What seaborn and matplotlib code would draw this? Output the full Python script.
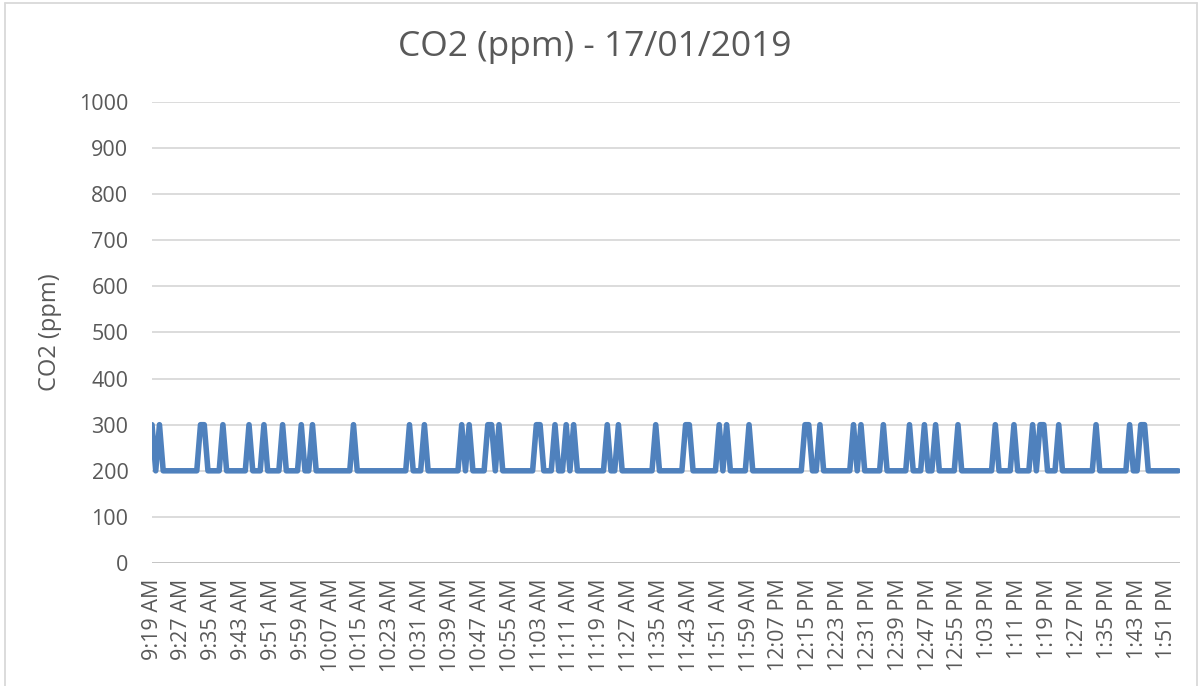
import numpy as np
import pandas as pd
import matplotlib
matplotlib.use("Agg")
import matplotlib.pyplot as plt
from matplotlib.lines import Line2D
import seaborn as sns

# ---- data (one reading per minute, 9:19 AM .. 1:54 PM) ----
co2_ppm = [
    300, 200, 300, 200, 200, 200, 200, 200, 200, 200, 200, 200, 200, 300, 300, 200, 200, 200, 200, 300,
    200, 200, 200, 200, 200, 200, 300, 200, 200, 200, 300, 200, 200, 200, 200, 300, 200, 200, 200, 200,
    300, 200, 200, 300, 200, 200, 200, 200, 200, 200, 200, 200, 200, 200, 300, 200, 200, 200, 200, 200,
    200, 200, 200, 200, 200, 200, 200, 200, 200, 300, 200, 200, 200, 300, 200, 200, 200, 200, 200, 200,
    200, 200, 200, 300, 200, 300, 200, 200, 200, 200, 300, 300, 200, 300, 200, 200, 200, 200, 200, 200,
    200, 200, 200, 300, 300, 200, 200, 200, 300, 200, 200, 300, 200, 300, 200, 200, 200, 200, 200, 200,
    200, 200, 300, 200, 200, 300, 200, 200, 200, 200, 200, 200, 200, 200, 200, 300, 200, 200, 200, 200,
    200, 200, 200, 300, 300, 200, 200, 200, 200, 200, 200, 200, 300, 200, 300, 200, 200, 200, 200, 200,
    300, 200, 200, 200, 200, 200, 200, 200, 200, 200, 200, 200, 200, 200, 200, 300, 300, 200, 200, 300,
    200, 200, 200, 200, 200, 200, 200, 200, 300, 200, 300, 200, 200, 200, 200, 200, 300, 200, 200, 200,
    200, 200, 200, 300, 200, 200, 200, 300, 200, 200, 300, 200, 200, 200, 200, 200, 300, 200, 200, 200,
    200, 200, 200, 200, 200, 200, 300, 200, 200, 200, 200, 300, 200, 200, 200, 200, 300, 200, 300, 300,
    200, 200, 200, 300, 200, 200, 200, 200, 200, 200, 200, 200, 200, 300, 200, 200, 200, 200, 200, 200,
    200, 200, 300, 200, 200, 300, 300, 200, 200, 200, 200, 200, 200, 200, 200, 200,
]
minute_index = list(range(len(co2_ppm)))

tick_labels = [
    "9:19 AM", "9:27 AM", "9:35 AM", "9:43 AM", "9:51 AM", "9:59 AM", "10:07 AM",
    "10:15 AM", "10:23 AM", "10:31 AM", "10:39 AM", "10:47 AM", "10:55 AM", "11:03 AM",
    "11:11 AM", "11:19 AM", "11:27 AM", "11:35 AM", "11:43 AM", "11:51 AM", "11:59 AM",
    "12:07 PM", "12:15 PM", "12:23 PM", "12:31 PM", "12:39 PM", "12:47 PM", "12:55 PM",
    "1:03 PM", "1:11 PM", "1:19 PM", "1:27 PM", "1:35 PM", "1:43 PM", "1:51 PM",
]
tick_step = 8
y_ticks = [0, 100, 200, 300, 400, 500, 600, 700, 800, 900, 1000]

title_text = "CO2 (ppm) - 17/01/2019"
y_title = "CO2 (ppm)"

df = pd.DataFrame({"minute": minute_index, "co2": co2_ppm})

# ---- style ----
sns.set_style("white")
plt.rcParams["font.family"] = ["Open Sans", "DejaVu Sans"]
text_color = "#595959"
grid_color = "#d9d9d9"
line_color = "#4f81bd"

W, H, DPI = 1203, 686, 100
fig = plt.figure(figsize=(W / DPI, H / DPI), dpi=DPI)
fig.patch.set_facecolor("white")

left, right = 152 / W, 1180 / W
bottom, top = (H - 563) / H, (H - 102) / H
ax = fig.add_axes([left, bottom, right - left, top - bottom])

sns.lineplot(data=df, x="minute", y="co2", ax=ax, color=line_color,
             linewidth=4.0, solid_joinstyle="round", solid_capstyle="round",
             zorder=3)

ax.set_xlim(0, 275.5)
ax.set_ylim(0, 1000)
ax.set_yticks(y_ticks)
ax.set_yticklabels([str(v) for v in y_ticks], fontsize=15.5, color=text_color)
ax.set_xticks(minute_index[::tick_step][:len(tick_labels)])
ax.set_xticklabels(tick_labels, rotation=90, fontsize=15.5, color=text_color,
                   ha="center", va="top")
ax.tick_params(axis="x", length=0, pad=11)
ax.tick_params(axis="y", length=0, pad=17)

ax.grid(False)
for v in y_ticks[1:]:
    ax.axhline(v, color=grid_color, linewidth=1.3, zorder=1)
ax.axhline(0, color="#bfbfbf", linewidth=1.3, zorder=2)
for s in ax.spines.values():
    s.set_visible(False)

ax.set_xlabel("")
ax.set_ylabel(y_title, fontsize=17, color=text_color)
ax.yaxis.set_label_coords((62 - 152) / (1180 - 152), 0.5)

fig.text(595 / W, 1 - 47 / H, title_text, fontsize=25.5, color=text_color,
         ha="center", va="center")

# chart area border
bc = "#d9d9d9"
fig.add_artist(Line2D([5 / W, 5 / W], [0, 1 - 3 / H], color=bc, lw=1.3, transform=fig.transFigure))
fig.add_artist(Line2D([5 / W, 1197 / W], [1 - 3 / H, 1 - 3 / H], color=bc, lw=1.3, transform=fig.transFigure))
fig.add_artist(Line2D([1197 / W, 1197 / W], [0, 1 - 3 / H], color=bc, lw=1.3, transform=fig.transFigure))

fig.savefig("out.png", dpi=DPI, facecolor="white")
